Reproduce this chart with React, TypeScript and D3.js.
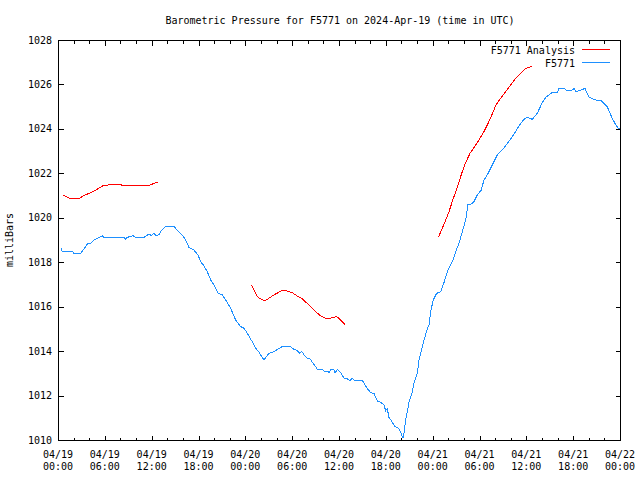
import React from "react";
import * as d3 from "d3";

// hours after 2024-04-19 00:00 UTC
const startTime = Date.UTC(2024, 3, 19, 0, 0);
const endHours = 72;

const stationHours = [
  0.42, 0.51, 1.79, 2.05, 2.95, 3.11, 3.55, 3.75, 4.19, 4.61, 5.03, 5.68, 5.89,
  8.46, 8.58, 8.88, 9.61, 9.99, 11.02, 11.66, 11.95, 12.3, 12.59, 12.94, 13.36,
  13.8, 14.86, 15.28, 15.5, 15.92, 16.36, 16.78, 17.42, 17.97, 18.28, 18.61,
  19.13, 19.56, 19.98, 20.54, 21.05, 21.48, 22.12, 22.76, 23.41, 23.83, 24.25,
  24.89, 25.33, 25.75, 26.39, 27.03, 27.67, 28.09, 28.73, 29.81, 30.23, 30.66,
  30.96, 31.22, 31.51, 31.94, 32.37, 32.58, 33.01, 33.22, 33.86, 34.08, 34.63,
  34.72, 34.93, 35.32, 35.49, 35.78, 36.22, 36.64, 37.06, 37.37, 37.7, 37.92,
  38.98, 39.33, 39.62, 40.06, 40.48, 40.9, 41.34, 41.76, 41.98, 42.19, 42.4,
  42.83, 43.17, 43.47, 43.77, 44.03, 44.2, 44.32, 44.54, 44.75, 44.97, 45.39,
  45.61, 46.03, 46.25, 46.5, 46.89, 47.27, 47.53, 47.78, 48.08, 48.51, 49.03,
  49.45, 49.87, 50.51, 50.95, 51.37, 51.79, 52.23, 52.52, 52.95, 53.29, 53.72,
  54.23, 54.57, 55.0, 55.64, 56.28, 56.92, 57.56, 58.2, 58.63, 59.06, 59.7,
  60.12, 60.76, 61.4, 62.04, 62.48, 63.32, 63.96, 64.18, 64.82, 65.12, 65.89,
  66.11, 66.32, 66.74, 67.51, 68.03, 68.67, 69.09, 69.52, 69.95, 70.37, 70.72,
  71.01, 71.45, 71.78, 72.0,
];
const stationPressure = [
  1018.63, 1018.5, 1018.5, 1018.4, 1018.4, 1018.5, 1018.7, 1018.82, 1018.85,
  1019.0, 1019.08, 1019.19, 1019.12, 1019.12, 1019.03, 1019.12, 1019.19,
  1019.12, 1019.12, 1019.27, 1019.2, 1019.3, 1019.2, 1019.25, 1019.48, 1019.6,
  1019.6, 1019.45, 1019.37, 1019.22, 1019.0, 1018.67, 1018.55, 1018.3, 1018.02,
  1017.88, 1017.57, 1017.2, 1016.98, 1016.6, 1016.53, 1016.3, 1015.93, 1015.4,
  1015.1, 1015.03, 1014.8, 1014.42, 1014.13, 1013.95, 1013.6, 1013.9, 1013.97,
  1014.08, 1014.2, 1014.2, 1014.08, 1014.02, 1013.9, 1014.0, 1013.83, 1013.68,
  1013.63, 1013.5, 1013.3, 1013.18, 1013.18, 1013.1, 1013.07, 1013.0, 1013.18,
  1013.18, 1013.0, 1013.18, 1013.03, 1012.78, 1012.75, 1012.67, 1012.78,
  1012.7, 1012.7, 1012.47, 1012.32, 1012.13, 1012.1, 1011.76, 1011.7, 1011.58,
  1011.32, 1011.4, 1011.02, 1010.8, 1010.6, 1010.57, 1010.45, 1010.23, 1010.08,
  1010.3, 1010.9, 1011.27, 1011.72, 1012.17, 1012.55, 1013.0, 1013.6, 1013.95,
  1014.5, 1014.95, 1015.18, 1015.85, 1016.3, 1016.6, 1016.67, 1017.08, 1017.57,
  1018.02, 1018.47, 1018.85, 1019.37, 1019.9, 1020.58, 1020.62, 1020.73,
  1021.03, 1021.25, 1021.7, 1021.93, 1022.38, 1022.83, 1023.05, 1023.35,
  1023.65, 1023.88, 1024.13, 1024.43, 1024.52, 1024.43, 1024.7, 1025.18,
  1025.42, 1025.64, 1025.64, 1025.82, 1025.82, 1025.75, 1025.75, 1025.82,
  1025.68, 1025.72, 1025.82, 1025.42, 1025.33, 1025.27, 1025.3, 1025.15,
  1025.0, 1024.7, 1024.48, 1024.18, 1024.03, 1024.0,
];

// null marks a gap between analysis runs
const analysisHours = [
  0.68, 1.19, 1.63, 2.69, 3.33, 3.97, 4.61, 5.25, 5.8, 6.53, 7.39, 7.81, 8.46,
  11.02, 11.88, 12.3, 12.81, 18.0, 24.76, 25.11, 25.53, 25.97, 26.52, 27.03,
  27.67, 28.31, 28.82, 29.37, 30.02, 30.66, 31.3, 32.07, 33.01, 33.65, 34.29,
  34.93, 35.65, 36.0, 36.73, 42.0, 48.72, 49.23, 49.67, 50.09, 50.51, 50.95,
  51.37, 51.79, 52.23, 52.78, 53.29, 53.93, 54.57, 55.21, 55.77, 56.07, 56.71,
  57.35, 57.99, 58.63, 59.28, 59.83, 60.34, 60.76,
];
const analysisPressure: (number | null)[] = [
  1021.03, 1020.92, 1020.87, 1020.87, 1021.0, 1021.1, 1021.2, 1021.33, 1021.45,
  1021.48, 1021.52, 1021.5, 1021.45, 1021.45, 1021.48, 1021.55, 1021.6, null,
  1016.98, 1016.75, 1016.45, 1016.35, 1016.26, 1016.38, 1016.53, 1016.65,
  1016.74, 1016.7, 1016.63, 1016.48, 1016.35, 1016.1, 1015.78, 1015.58,
  1015.48, 1015.48, 1015.55, 1015.48, 1015.2, null, 1019.12, 1019.52, 1019.9,
  1020.27, 1020.73, 1021.17, 1021.62, 1022.07, 1022.48, 1022.9, 1023.16,
  1023.5, 1023.88, 1024.33, 1024.78, 1025.05, 1025.38, 1025.68, 1025.98,
  1026.28, 1026.5, 1026.7, 1026.77, 1026.83,
];

const yTicks = [1010, 1012, 1014, 1016, 1018, 1020, 1022, 1024, 1026, 1028];

const seriesNames = ["F5771 Analysis", "F5771"];
const seriesColors = ["#ff0000", "#1e90ff"];

const title = "Barometric Pressure for F5771 on 2024-Apr-19 (time in UTC)";
const yLabel = "milliBars";

type Pt = { t: Date; v: number | null };

const width = 640;
const height = 480;
const margin = { top: 40, right: 20, bottom: 40, left: 58 };
const font = "'DejaVu Sans Mono', 'Liberation Mono', monospace";

const App: React.FC = () => {
  const toDate = (h: number) => new Date(startTime + h * 3600 * 1000);

  const x = d3
    .scaleUtc()
    .domain([toDate(0), toDate(endHours)])
    .range([margin.left, width - margin.right]);
  const y = d3
    .scaleLinear()
    .domain([1010, 1028])
    .range([height - margin.bottom, margin.top]);

  const station: Pt[] = stationHours.map((h, i) => ({
    t: toDate(h),
    v: stationPressure[i],
  }));
  const analysis: Pt[] = analysisHours.map((h, i) => ({
    t: toDate(h),
    v: analysisPressure[i],
  }));

  const line = d3
    .line<Pt>()
    .defined((d) => d.v !== null)
    .x((d) => x(d.t))
    .y((d) => y(d.v as number));

  const majorTicks = x.ticks(d3.utcHour.every(6)!);
  const minorTicks = x
    .ticks(d3.utcHour.every(2)!)
    .filter((d) => d.getUTCHours() % 6 !== 0);

  const x0 = margin.left + 0.5;
  const x1 = width - margin.right + 0.5;
  const yTop = margin.top + 0.5;
  const yBot = height - margin.bottom + 0.5;
  const fmtDate = d3.utcFormat("%m/%d");
  const fmtTime = d3.utcFormat("%H:%M");

  return (
    <svg
      width={width}
      height={height}
      style={{ position: "absolute", left: 0, top: 0, background: "#fff" }}
      fontFamily={font}
      fontSize={10}
    >
      <rect width={width} height={height} fill="#fff" />
      <text x={340} y={24} textAnchor="middle" fill="#000">
        {title}
      </text>

      <g stroke="#000" strokeWidth={1} shapeRendering="crispEdges">
        {majorTicks.map((d, i) => (
          <g key={"M" + i}>
            <line x1={Math.round(x(d)) + 0.5} x2={Math.round(x(d)) + 0.5} y1={yBot} y2={yBot - 5} />
            <line x1={Math.round(x(d)) + 0.5} x2={Math.round(x(d)) + 0.5} y1={yTop} y2={yTop + 5} />
          </g>
        ))}
        {minorTicks.map((d, i) => (
          <g key={"m" + i}>
            <line x1={Math.round(x(d)) + 0.5} x2={Math.round(x(d)) + 0.5} y1={yBot} y2={yBot - 3} />
            <line x1={Math.round(x(d)) + 0.5} x2={Math.round(x(d)) + 0.5} y1={yTop} y2={yTop + 3} />
          </g>
        ))}
        {yTicks.map((v) => (
          <g key={"y" + v}>
            <line x1={x0} x2={x0 + 5} y1={Math.round(y(v)) + 0.5} y2={Math.round(y(v)) + 0.5} />
            <line x1={x1} x2={x1 - 5} y1={Math.round(y(v)) + 0.5} y2={Math.round(y(v)) + 0.5} />
          </g>
        ))}
      </g>

      <g fill="#000">
        {yTicks.map((v) => (
          <text key={"yl" + v} x={52} y={y(v)} dy="0.35em" textAnchor="end">
            {v}
          </text>
        ))}
        {majorTicks.map((d, i) => (
          <text key={"xl" + i} x={x(d)} textAnchor="middle">
            <tspan x={x(d)} y={458}>
              {fmtDate(d)}
            </tspan>
            <tspan x={x(d)} y={470}>
              {fmtTime(d)}
            </tspan>
          </text>
        ))}
        <text
          transform={`translate(13,${(margin.top + height - margin.bottom) / 2}) rotate(-90)`}
          textAnchor="middle"
        >
          {yLabel}
        </text>
      </g>

      <g fill="none" strokeWidth={1} shapeRendering="crispEdges">
        <path d={line(analysis) ?? ""} stroke={seriesColors[0]} />
        <path d={line(station) ?? ""} stroke={seriesColors[1]} />
      </g>

      <g fontSize={10}>
        {seriesNames.map((name, i) => (
          <g key={name}>
            <text x={575} y={50 + i * 13} dy="0.35em" textAnchor="end" fill="#000">
              {name}
            </text>
            <line
              x1={582}
              x2={610}
              y1={49.5 + i * 13}
              y2={49.5 + i * 13}
              stroke={seriesColors[i]}
              shapeRendering="crispEdges"
            />
          </g>
        ))}
      </g>

      <rect
        x={x0}
        y={yTop}
        width={x1 - x0}
        height={yBot - yTop}
        fill="none"
        stroke="#000"
        shapeRendering="crispEdges"
      />
    </svg>
  );
};

export default App;
